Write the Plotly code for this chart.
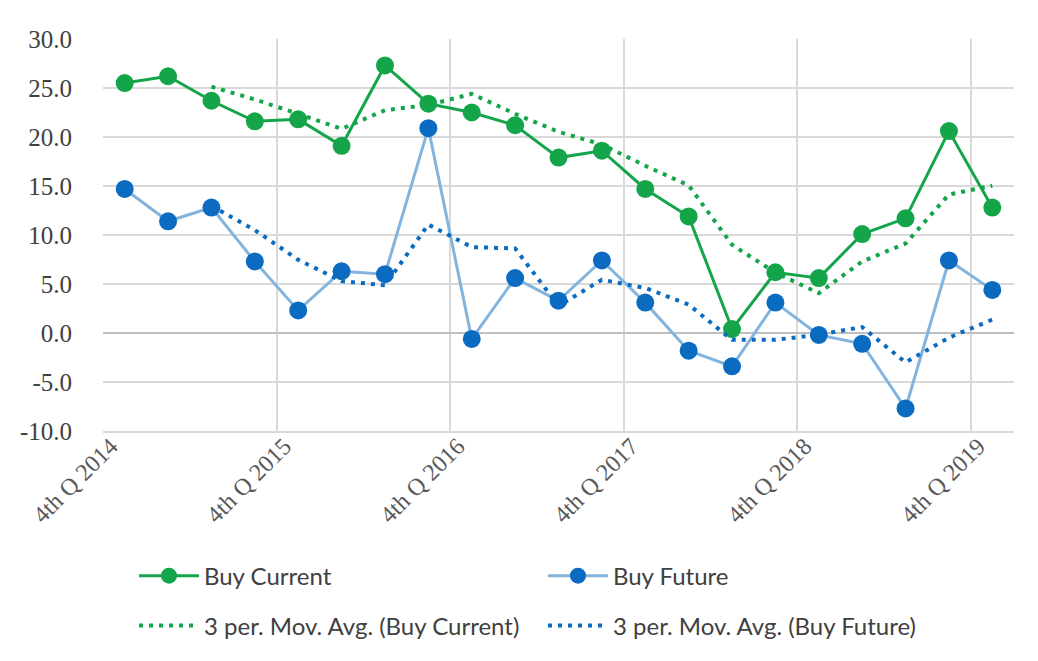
import plotly.graph_objects as go
import pandas as pd

# Données trimestrielles
quarters = [
    "4th Q 2014", "1st Q 2015", "2nd Q 2015", "3rd Q 2015",
    "4th Q 2015", "1st Q 2016", "2nd Q 2016", "3rd Q 2016",
    "4th Q 2016", "1st Q 2017", "2nd Q 2017", "3rd Q 2017",
    "4th Q 2017", "1st Q 2018", "2nd Q 2018", "3rd Q 2018",
    "4th Q 2018", "1st Q 2019", "2nd Q 2019", "3rd Q 2019",
    "4th Q 2019",
]
buy_current = [25.5, 26.2, 23.7, 21.6, 21.8, 19.1, 27.3, 23.4, 22.5, 21.2, 17.9,
               18.6, 14.7, 11.9, 0.4, 6.2, 5.6, 10.1, 11.7, 20.6, 12.8]
buy_future = [14.7, 11.4, 12.8, 7.3, 2.3, 6.3, 6.0, 20.9, -0.6, 5.6, 3.3,
              7.4, 3.1, -1.8, -3.4, 3.1, -0.2, -1.1, -7.7, 7.4, 4.4]
tick_labels = ["4th Q 2014", "4th Q 2015", "4th Q 2016",
               "4th Q 2017", "4th Q 2018", "4th Q 2019"]
y_ticks = [-10, -5, 0, 5, 10, 15, 20, 25, 30]

GREEN = "#14a54a"
BLUE = "#0b6bc1"
LIGHT_BLUE = "#82b4de"
GRID = "#d9d9d9"
SERIF = "'Liberation Serif', 'Times New Roman', 'DejaVu Serif', serif"

idx = list(range(len(quarters)))
tick_idx = [quarters.index(t) for t in tick_labels]

# Moyenne mobile sur 3 périodes (courbe de tendance)
ma_current = pd.Series(buy_current).rolling(3).mean()
ma_future = pd.Series(buy_future).rolling(3).mean()

fig = go.Figure()

fig.add_trace(go.Scatter(
    x=idx, y=buy_current, name="Buy Current", mode="lines+markers",
    line=dict(color=GREEN, width=3), marker=dict(color=GREEN, size=18),
    legend="legend"
))
fig.add_trace(go.Scatter(
    x=idx, y=buy_future, name="Buy Future", mode="lines+markers",
    line=dict(color=LIGHT_BLUE, width=3), marker=dict(color=BLUE, size=18),
    legend="legend"
))
fig.add_trace(go.Scatter(
    x=idx, y=ma_current, name="3 per. Mov. Avg. (Buy Current)", mode="lines",
    line=dict(color=GREEN, width=4, dash="4px,6px"),
    legend="legend2"
))
fig.add_trace(go.Scatter(
    x=idx, y=ma_future, name="3 per. Mov. Avg. (Buy Future)", mode="lines",
    line=dict(color=BLUE, width=4, dash="4px,6px"),
    legend="legend2"
))

legend_common = dict(
    orientation="h", xanchor="left", yanchor="middle",
    font=dict(family="Lato", size=24, color="#404040"),
    entrywidth=334, entrywidthmode="pixels", itemwidth=60,
    bgcolor="rgba(0,0,0,0)"
)

fig.update_layout(
    width=1038, height=661,
    plot_bgcolor="white", paper_bgcolor="white",
    margin=dict(l=93, r=32, t=31, b=238),
    showlegend=True,
    legend=dict(x=0.034, y=-0.37, **legend_common),
    legend2=dict(x=0.034, y=-0.497, **legend_common),
    xaxis=dict(
        range=[-0.5, len(quarters) - 0.5],
        tickmode="array", tickvals=tick_idx, ticktext=tick_labels,
        tickangle=-45, ticks="",
        ticklabelshift=-14, ticklabelstandoff=-10,
        tickfont=dict(family=SERIF, size=24, color="#595959"),
        showgrid=False, zeroline=False,
        showline=True, linecolor=GRID, linewidth=1.5,
        minor=dict(tickmode="array",
                   tickvals=[i - 0.5 for i in tick_idx],
                   showgrid=True, gridcolor=GRID, gridwidth=1.5, ticks=""),
    ),
    yaxis=dict(
        range=[-10, 30], tickmode="array", tickvals=y_ticks,
        ticktext=[f"{v:.1f}" for v in y_ticks], ticks="",
        ticklabelstandoff=30,
        tickfont=dict(family=SERIF, size=25, color="#404040"),
        showgrid=True, gridcolor=GRID, gridwidth=1.5,
        zeroline=True, zerolinecolor="#bfbfbf", zerolinewidth=1.5,
        showline=False,
    ),
)

fig.write_html("out.html")
